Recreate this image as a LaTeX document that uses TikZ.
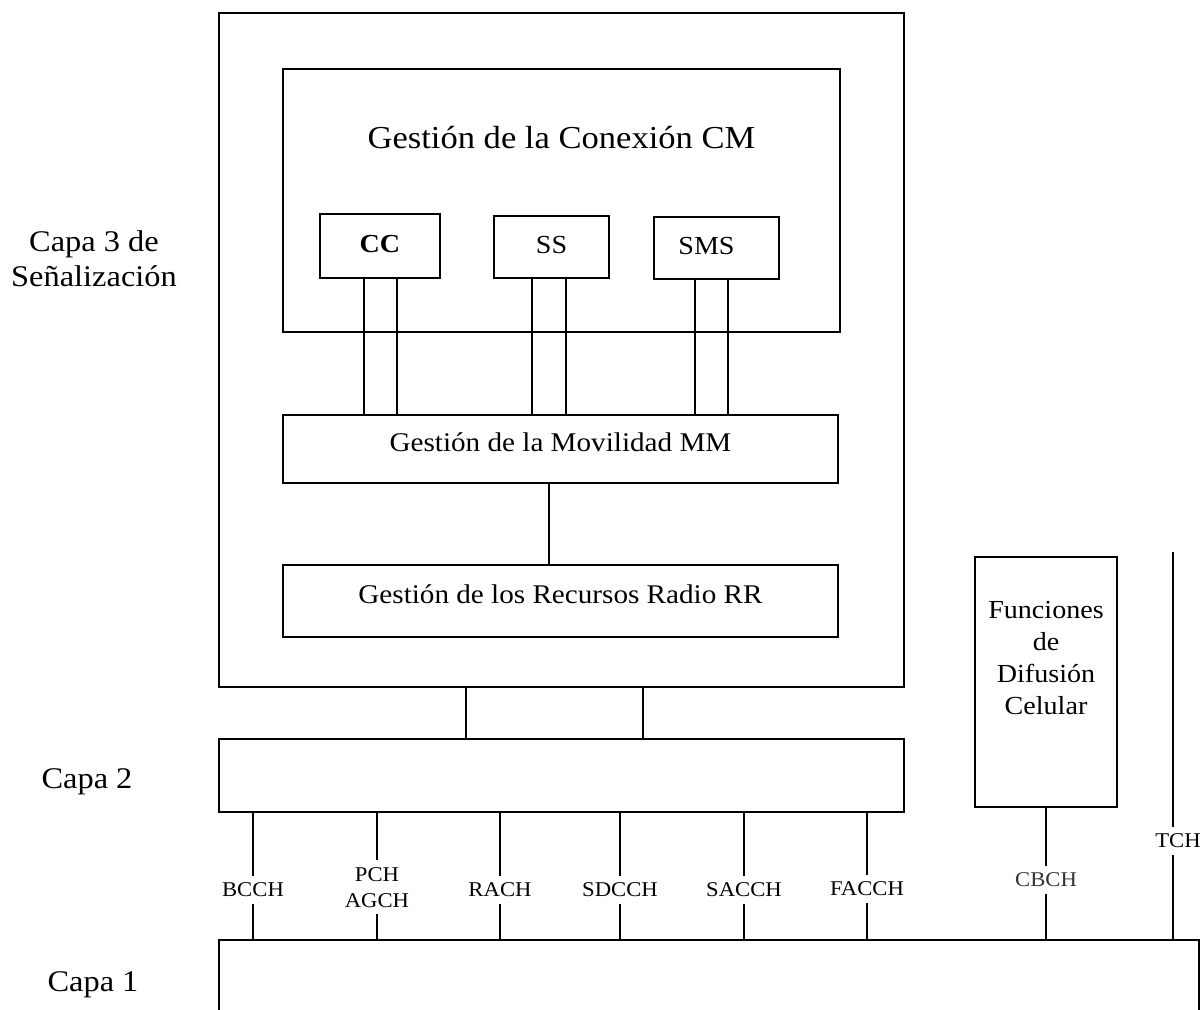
\documentclass[tikz,border=0pt]{standalone}
\usepackage{fontspec}
\setmainfont{Liberation Serif}[FakeStretch=1.08]
\usetikzlibrary{calc}
\begin{document}
\begin{tikzpicture}[x=1pt, y=-1pt, line width=2pt,
  box/.style={draw, rectangle, inner sep=0pt, text height=0.7em, text depth=0.25em},
  mid/.style={font=\fontsize{27}{32}\selectfont},
  entity/.style={box, text height=18pt, text depth=6pt, font=\fontsize{26}{30}\selectfont},
  chan/.style={fill=white, inner xsep=2pt, inner ysep=7pt, align=center,
               font=\fontsize{21}{26}\selectfont},
  layer/.style={align=center, font=\fontsize{30}{35}\selectfont}]
\useasboundingbox (0,0) rectangle (1203,1010);

% --- signalling layer 3 ---
\node[box, minimum width=685, minimum height=674] (l3) at (561.5,350) {};
\node[box, minimum width=557, minimum height=263] (cm) at (561.5,200.5) {};
\node[anchor=base, font=\fontsize{32}{38}\selectfont] (cmtitle) at (561.5,148) {Gestión de la Conexión CM};

\node[entity, font=\bfseries\fontsize{26}{30}\selectfont, minimum width=120, minimum height=64] (cc) at (380,246) {CC};
\node[entity, minimum width=115, minimum height=62] (ss) at (551.5,247) {SS};
\node[entity, minimum width=125, minimum height=62] (sms) at (716.5,248) {SMS\kern20pt};

\node[box, mid, minimum width=555, minimum height=68] (mm) at (560.5,449) {Gestión de la Movilidad MM};
\node[box, mid, minimum width=555, minimum height=72] (rr) at (560.5,601) {Gestión de los Recursos Radio RR};

% --- layers 2 and 1 ---
\node[box, minimum width=685, minimum height=73] (l2) at (561.5,775.5) {};
\node[box, minimum width=980, minimum height=100] (l1) at (709,990) {};

% --- cell broadcast ---
\node[box, minimum width=142, minimum height=250] (cbf) at (1046,682) {};
\node[align=center, font=\fontsize{26}{32}\selectfont] (cbftext) at (1046,658) {Funciones\\de\\Difusión\\Celular};

% --- layer names ---
\node[layer] (capa3) at (94,259) {Capa 3 de\\Señalización};
\node[layer, anchor=base] (capa2) at (87,788) {Capa 2};
\node[layer, anchor=base] (capa1) at (93,991) {Capa 1};

% --- CM entities down to MM ---
\coordinate (cc1) at ([xshift=-16pt]cc.south);
\coordinate (cc2) at ([xshift=17pt]cc.south);
\coordinate (ss1) at ([xshift=-19.5pt]ss.south);
\coordinate (ss2) at ([xshift=14.5pt]ss.south);
\coordinate (sms1) at ([xshift=-21.5pt]sms.south);
\coordinate (sms2) at ([xshift=11.5pt]sms.south);
\foreach \c in {cc1,cc2,ss1,ss2,sms1,sms2}
  \draw (\c) -- (\c |- mm.north);

% --- MM to RR ---
\draw ([xshift=-11.5pt]mm.south) -- ([xshift=-11.5pt]rr.north);

% --- layer 3 to layer 2 ---
\draw ([xshift=-95.5pt]l3.south) -- ([xshift=-95.5pt]l2.north);
\draw ([xshift=81.5pt]l3.south) -- ([xshift=81.5pt]l2.north);

% --- logical channels ---
\coordinate (bcch) at ([xshift=-308.5pt]l2.south);
\coordinate (pch) at ([xshift=-184.5pt]l2.south);
\coordinate (rach) at ([xshift=-61.5pt]l2.south);
\coordinate (sdcch) at ([xshift=58.5pt]l2.south);
\coordinate (sacch) at ([xshift=182.5pt]l2.south);
\coordinate (facch) at ([xshift=305.5pt]l2.south);
\draw (bcch) -- node[chan, pos=0.61] {BCCH} (bcch |- l1.north);
\draw (pch) -- node[chan, pos=0.59] {PCH\\AGCH} (pch |- l1.north);
\draw (rach) -- node[chan, pos=0.61] {RACH} (rach |- l1.north);
\draw (sdcch) -- node[chan, pos=0.61] {SDCCH} (sdcch |- l1.north);
\draw (sacch) -- node[chan, pos=0.61] {SACCH} (sacch |- l1.north);
\draw (facch) -- node[chan, pos=0.60] {FACCH} (facch |- l1.north);
\draw (cbf.south) -- node[chan, pos=0.55, text=black!80] {CBCH} (cbf.south |- l1.north);
\coordinate (tchtop) at (1173,552);
\draw (tchtop) -- node[chan, pos=0.747, xshift=5pt] {TCH} (tchtop |- l1.north);
\end{tikzpicture}
\end{document}
